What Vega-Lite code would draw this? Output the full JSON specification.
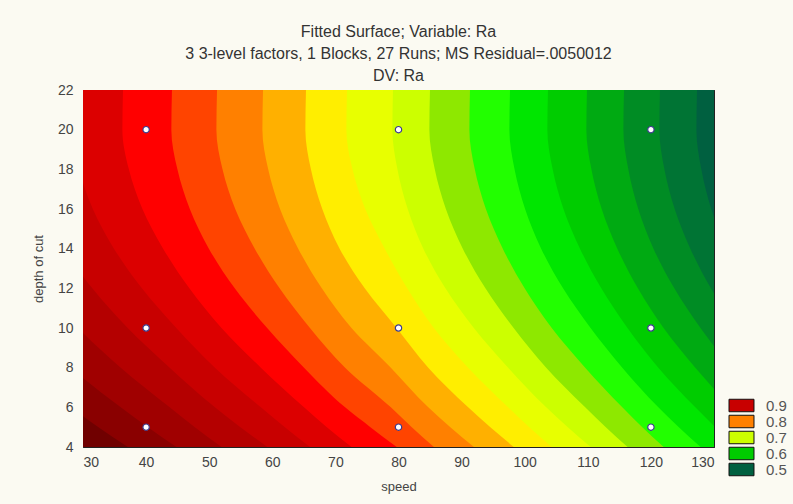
{
  "$schema": "https://vega.github.io/schema/vega-lite/v6.json",
  "width": 631,
  "height": 357,
  "autosize": {"type": "none"},
  "padding": {"left": 83, "top": 90, "right": 79, "bottom": 57},
  "background": "#fbfaf2",
  "title": {
    "text": ["Fitted Surface; Variable: Ra", "3 3-level factors, 1 Blocks, 27 Runs; MS Residual=.0050012", "DV: Ra"],
    "font": "Liberation Sans",
    "fontSize": 16,
    "fontWeight": "normal",
    "color": "#333333",
    "lineHeight": 22,
    "anchor": "middle",
    "offset": -1
  },
  "config": {
    "view": {"stroke": "#222222", "strokeWidth": 1},
    "axis": {
      "labelFont": "Liberation Sans",
      "labelFontSize": 14,
      "labelColor": "#444444",
      "labelOverlap": false,
      "titleFont": "Liberation Sans",
      "titleFontSize": 13,
      "titleFontWeight": "normal",
      "titleColor": "#444444",
      "grid": false,
      "domain": false,
      "ticks": true,
      "tickSize": -4,
      "tickColor": "#222222",
      "tickWidth": 1
    }
  },
  "resolve": {"axis": {"x": "independent", "y": "independent"}},
  "datasets": {
    "bands": [
      {"v":1,"depth":22,"speed":20},{"v":1,"depth":20,"speed":20},{"v":1,"depth":18,"speed":20},{"v":1,"depth":16,"speed":20},{"v":1,"depth":14,"speed":20},{"v":1,"depth":12,"speed":20},{"v":1,"depth":10,"speed":20},{"v":1,"depth":8,"speed":20},{"v":1,"depth":6,"speed":20},{"v":1,"depth":5,"speed":20},{"v":1,"depth":4,"speed":20},
      {"v":0.975,"depth":22,"speed":-6.45},{"v":0.975,"depth":20,"speed":-6.55},{"v":0.975,"depth":18,"speed":-5.35},{"v":0.975,"depth":16,"speed":-2.8},{"v":0.975,"depth":14,"speed":1.09},{"v":0.975,"depth":12,"speed":6.17},{"v":0.975,"depth":10,"speed":12.45},{"v":0.975,"depth":8,"speed":19.78},{"v":0.975,"depth":6,"speed":28.04},{"v":0.975,"depth":5,"speed":32.45},{"v":0.975,"depth":4,"speed":37.12},
      {"v":0.95,"depth":22,"speed":2.74},{"v":0.95,"depth":20,"speed":2.64},{"v":0.95,"depth":18,"speed":3.81},{"v":0.95,"depth":16,"speed":6.27},{"v":0.95,"depth":14,"speed":10.02},{"v":0.95,"depth":12,"speed":14.92},{"v":0.95,"depth":10,"speed":20.97},{"v":0.95,"depth":8,"speed":28.04},{"v":0.95,"depth":6,"speed":35.98},{"v":0.95,"depth":5,"speed":40.29},{"v":0.95,"depth":4,"speed":44.81},
      {"v":0.925,"depth":22,"speed":11.62},{"v":0.925,"depth":20,"speed":11.52},{"v":0.925,"depth":18,"speed":12.65},{"v":0.925,"depth":16,"speed":15.01},{"v":0.925,"depth":14,"speed":18.63},{"v":0.925,"depth":12,"speed":23.35},{"v":0.925,"depth":10,"speed":29.19},{"v":0.925,"depth":8,"speed":35.98},{"v":0.925,"depth":6,"speed":43.74},{"v":0.925,"depth":5,"speed":47.73},{"v":0.925,"depth":4,"speed":51.97},
      {"v":0.9,"depth":22,"speed":20.17},{"v":0.9,"depth":20,"speed":20.07},{"v":0.9,"depth":18,"speed":21.16},{"v":0.9,"depth":16,"speed":23.45},{"v":0.9,"depth":14,"speed":26.94},{"v":0.9,"depth":12,"speed":31.48},{"v":0.9,"depth":10,"speed":37.09},{"v":0.9,"depth":8,"speed":43.74},{"v":0.9,"depth":6,"speed":50.91},{"v":0.9,"depth":5,"speed":54.95},{"v":0.9,"depth":4,"speed":59.21},
      {"v":0.875,"depth":22,"speed":28.42},{"v":0.875,"depth":20,"speed":28.32},{"v":0.875,"depth":18,"speed":29.37},{"v":0.875,"depth":16,"speed":31.56},{"v":0.875,"depth":14,"speed":34.91},{"v":0.875,"depth":12,"speed":39.34},{"v":0.875,"depth":10,"speed":44.79},{"v":0.875,"depth":8,"speed":50.91},{"v":0.875,"depth":6,"speed":58.19},{"v":0.875,"depth":5,"speed":62.0},{"v":0.875,"depth":4,"speed":65.99},
      {"v":0.85,"depth":22,"speed":36.34},{"v":0.85,"depth":20,"speed":36.24},{"v":0.85,"depth":18,"speed":37.27},{"v":0.85,"depth":16,"speed":39.42},{"v":0.85,"depth":14,"speed":42.7},{"v":0.85,"depth":12,"speed":46.86},{"v":0.85,"depth":10,"speed":51.95},{"v":0.85,"depth":8,"speed":58.19},{"v":0.85,"depth":6,"speed":65.03},{"v":0.85,"depth":5,"speed":68.65},{"v":0.85,"depth":4,"speed":72.57},
      {"v":0.825,"depth":22,"speed":44.1},{"v":0.825,"depth":20,"speed":44.0},{"v":0.825,"depth":18,"speed":44.96},{"v":0.825,"depth":16,"speed":46.93},{"v":0.825,"depth":14,"speed":49.95},{"v":0.825,"depth":12,"speed":54.05},{"v":0.825,"depth":10,"speed":59.19},{"v":0.825,"depth":8,"speed":65.03},{"v":0.825,"depth":6,"speed":71.54},{"v":0.825,"depth":5,"speed":75.55},{"v":0.825,"depth":4,"speed":79.72},
      {"v":0.8,"depth":22,"speed":51.24},{"v":0.8,"depth":20,"speed":51.14},{"v":0.8,"depth":18,"speed":52.11},{"v":0.8,"depth":16,"speed":54.13},{"v":0.8,"depth":14,"speed":57.22},{"v":0.8,"depth":12,"speed":61.16},{"v":0.8,"depth":10,"speed":65.97},{"v":0.8,"depth":8,"speed":71.54},{"v":0.8,"depth":6,"speed":78.79},{"v":0.8,"depth":5,"speed":82.11},{"v":0.8,"depth":4,"speed":85.62},
      {"v":0.775,"depth":22,"speed":58.53},{"v":0.775,"depth":20,"speed":58.43},{"v":0.775,"depth":18,"speed":59.35},{"v":0.775,"depth":16,"speed":61.23},{"v":0.775,"depth":14,"speed":64.11},{"v":0.775,"depth":12,"speed":67.85},{"v":0.775,"depth":10,"speed":72.55},{"v":0.775,"depth":8,"speed":78.79},{"v":0.775,"depth":6,"speed":84.72},{"v":0.775,"depth":5,"speed":88.22},{"v":0.775,"depth":4,"speed":91.96},
      {"v":0.75,"depth":22,"speed":65.34},{"v":0.75,"depth":20,"speed":65.24},{"v":0.75,"depth":18,"speed":66.12},{"v":0.75,"depth":16,"speed":67.92},{"v":0.75,"depth":14,"speed":70.67},{"v":0.75,"depth":12,"speed":74.65},{"v":0.75,"depth":10,"speed":79.7},{"v":0.75,"depth":8,"speed":84.72},{"v":0.75,"depth":6,"speed":91.04},{"v":0.75,"depth":5,"speed":94.56},{"v":0.75,"depth":4,"speed":98.27},
      {"v":0.725,"depth":22,"speed":71.84},{"v":0.725,"depth":20,"speed":71.74},{"v":0.725,"depth":18,"speed":72.71},{"v":0.725,"depth":16,"speed":74.73},{"v":0.725,"depth":14,"speed":77.82},{"v":0.725,"depth":12,"speed":81.39},{"v":0.725,"depth":10,"speed":85.6},{"v":0.725,"depth":8,"speed":91.04},{"v":0.725,"depth":6,"speed":97.38},{"v":0.725,"depth":5,"speed":100.73},{"v":0.725,"depth":4,"speed":104.31},
      {"v":0.7,"depth":22,"speed":79.13},{"v":0.7,"depth":20,"speed":79.03},{"v":0.7,"depth":18,"speed":79.83},{"v":0.7,"depth":16,"speed":81.46},{"v":0.7,"depth":14,"speed":83.94},{"v":0.7,"depth":12,"speed":87.44},{"v":0.7,"depth":10,"speed":91.94},{"v":0.7,"depth":8,"speed":97.38},{"v":0.7,"depth":6,"speed":103.41},{"v":0.7,"depth":5,"speed":106.84},{"v":0.7,"depth":4,"speed":110.46},
      {"v":0.675,"depth":22,"speed":84.99},{"v":0.675,"depth":20,"speed":84.89},{"v":0.675,"depth":18,"speed":85.75},{"v":0.675,"depth":16,"speed":87.51},{"v":0.675,"depth":14,"speed":90.19},{"v":0.675,"depth":12,"speed":93.78},{"v":0.675,"depth":10,"speed":98.25},{"v":0.675,"depth":8,"speed":103.41},{"v":0.675,"depth":6,"speed":109.59},{"v":0.675,"depth":5,"speed":112.86},{"v":0.675,"depth":4,"speed":116.31},
      {"v":0.65,"depth":22,"speed":91.33},{"v":0.65,"depth":20,"speed":91.23},{"v":0.65,"depth":18,"speed":92.09},{"v":0.65,"depth":16,"speed":93.85},{"v":0.65,"depth":14,"speed":96.53},{"v":0.65,"depth":12,"speed":99.99},{"v":0.65,"depth":10,"speed":104.29},{"v":0.65,"depth":8,"speed":109.59},{"v":0.65,"depth":6,"speed":115.47},{"v":0.65,"depth":5,"speed":118.64},{"v":0.65,"depth":4,"speed":122.03},
      {"v":0.625,"depth":22,"speed":97.67},{"v":0.625,"depth":20,"speed":97.57},{"v":0.625,"depth":18,"speed":98.39},{"v":0.625,"depth":16,"speed":100.06},{"v":0.625,"depth":14,"speed":102.61},{"v":0.625,"depth":12,"speed":106.08},{"v":0.625,"depth":10,"speed":110.44},{"v":0.625,"depth":8,"speed":115.47},{"v":0.625,"depth":6,"speed":121.18},{"v":0.625,"depth":5,"speed":124.43},{"v":0.625,"depth":4,"speed":127.88},
      {"v":0.6,"depth":22,"speed":103.69},{"v":0.6,"depth":20,"speed":103.59},{"v":0.6,"depth":18,"speed":104.43},{"v":0.6,"depth":16,"speed":106.14},{"v":0.6,"depth":14,"speed":108.76},{"v":0.6,"depth":12,"speed":112.14},{"v":0.6,"depth":10,"speed":116.29},{"v":0.6,"depth":8,"speed":121.18},{"v":0.6,"depth":6,"speed":127.04},{"v":0.6,"depth":5,"speed":130.21},{"v":0.6,"depth":4,"speed":133.58},
      {"v":0.575,"depth":22,"speed":109.87},{"v":0.575,"depth":20,"speed":109.77},{"v":0.575,"depth":18,"speed":110.57},{"v":0.575,"depth":16,"speed":112.2},{"v":0.575,"depth":14,"speed":114.68},{"v":0.575,"depth":12,"speed":117.94},{"v":0.575,"depth":10,"speed":122.01},{"v":0.575,"depth":8,"speed":127.04},{"v":0.575,"depth":6,"speed":132.75},{"v":0.575,"depth":5,"speed":135.91},{"v":0.575,"depth":4,"speed":139.27},
      {"v":0.55,"depth":22,"speed":115.74},{"v":0.55,"depth":20,"speed":115.64},{"v":0.55,"depth":18,"speed":116.42},{"v":0.55,"depth":16,"speed":118.0},{"v":0.55,"depth":14,"speed":120.41},{"v":0.55,"depth":12,"speed":123.71},{"v":0.55,"depth":10,"speed":127.86},{"v":0.55,"depth":8,"speed":132.75},{"v":0.55,"depth":6,"speed":138.44},{"v":0.55,"depth":5,"speed":141.6},{"v":0.55,"depth":4,"speed":144.96},
      {"v":0.525,"depth":22,"speed":121.44},{"v":0.525,"depth":20,"speed":121.34},{"v":0.525,"depth":18,"speed":122.14},{"v":0.525,"depth":16,"speed":123.77},{"v":0.525,"depth":14,"speed":126.25},{"v":0.525,"depth":12,"speed":129.51},{"v":0.525,"depth":10,"speed":133.56},{"v":0.525,"depth":8,"speed":138.44},{"v":0.525,"depth":6,"speed":144.14},{"v":0.525,"depth":5,"speed":147.25},{"v":0.525,"depth":4,"speed":150.56},
      {"v":0.5,"depth":22,"speed":127.31},{"v":0.5,"depth":20,"speed":127.21},{"v":0.5,"depth":18,"speed":127.99},{"v":0.5,"depth":16,"speed":129.57},{"v":0.5,"depth":14,"speed":131.98},{"v":0.5,"depth":12,"speed":135.21},{"v":0.5,"depth":10,"speed":139.25},{"v":0.5,"depth":8,"speed":144.14},{"v":0.5,"depth":6,"speed":149.74},{"v":0.5,"depth":5,"speed":152.85},{"v":0.5,"depth":4,"speed":156.16}
    ],
    "runs": [
      {"speed":40,"depth":5},{"speed":40,"depth":10},{"speed":40,"depth":20},
      {"speed":80,"depth":5},{"speed":80,"depth":10},{"speed":80,"depth":20},
      {"speed":120,"depth":5},{"speed":120,"depth":10},{"speed":120,"depth":20}
    ]
  },
  "layer": [
    {
      "data": {"name": "bands"},
      "mark": {"type": "area", "orient": "horizontal", "interpolate": "monotone", "clip": true, "opacity": 1},
      "encoding": {
        "y": {
          "field": "depth", "type": "quantitative",
          "scale": {"domain": [4, 22], "nice": false, "zero": false},
          "axis": {"title": "depth of cut", "values": [4,6,8,10,12,14,16,18,20,22], "labelPadding": 14, "titlePadding": 12}
        },
        "x": {
          "field": "speed", "type": "quantitative", "stack": null,
          "scale": {"domain": [30, 130], "nice": false, "zero": false},
          "axis": {"title": "speed", "values": [30,40,50,60,70,80,90,100,110,120,130], "labelPadding": 12, "titlePadding": 11}
        },
        "x2": {"datum": 160},
        "color": {
          "field": "v", "type": "nominal",
          "scale": {
            "domain": [1,0.975,0.95,0.925,0.9,0.875,0.85,0.825,0.8,0.775,0.75,0.725,0.7,0.675,0.65,0.625,0.6,0.575,0.55,0.525,0.5],
            "range": ["#700000","#8a0000","#a00000","#b40000","#c80000","#dc0000","#ff0000","#ff4400","#ff8000","#ffb000","#ffee00","#e8ff00","#ccff00","#8ee800","#22ff00","#00e600","#00cc00","#00aa12","#008c24","#007434","#006040"]
          },
          "legend": {
            "values": [0.9, 0.8, 0.7, 0.6, 0.5],
            "title": null,
            "orient": "none",
            "legendX": 651,
            "legendY": 308,
            "padding": 0,
            "symbolType": "M-2,-1H2V1H-2Z",
            "symbolSize": 156,
            "symbolStrokeColor": "#111111",
            "symbolStrokeWidth": 1,
            "symbolOpacity": 1,
            "labelFont": "Liberation Sans",
            "labelFontSize": 15,
            "labelColor": "#555555",
            "labelOffset": 17,
            "rowPadding": -1.5
          }
        }
      }
    },
    {
      "data": {"name": "runs"},
      "mark": {"type": "point", "shape": "circle", "filled": true, "fill": "#ffffff", "stroke": "#3c3a8c", "strokeWidth": 1.2, "size": 40, "opacity": 1},
      "encoding": {
        "x": {
          "field": "speed", "type": "quantitative",
          "axis": {"orient": "top", "labels": false, "title": null, "values": [30,40,50,60,70,80,90,100,110,120,130]}
        },
        "y": {
          "field": "depth", "type": "quantitative",
          "axis": {"orient": "right", "labels": false, "title": null, "values": [4,6,8,10,12,14,16,18,20,22]}
        }
      }
    }
  ]
}
